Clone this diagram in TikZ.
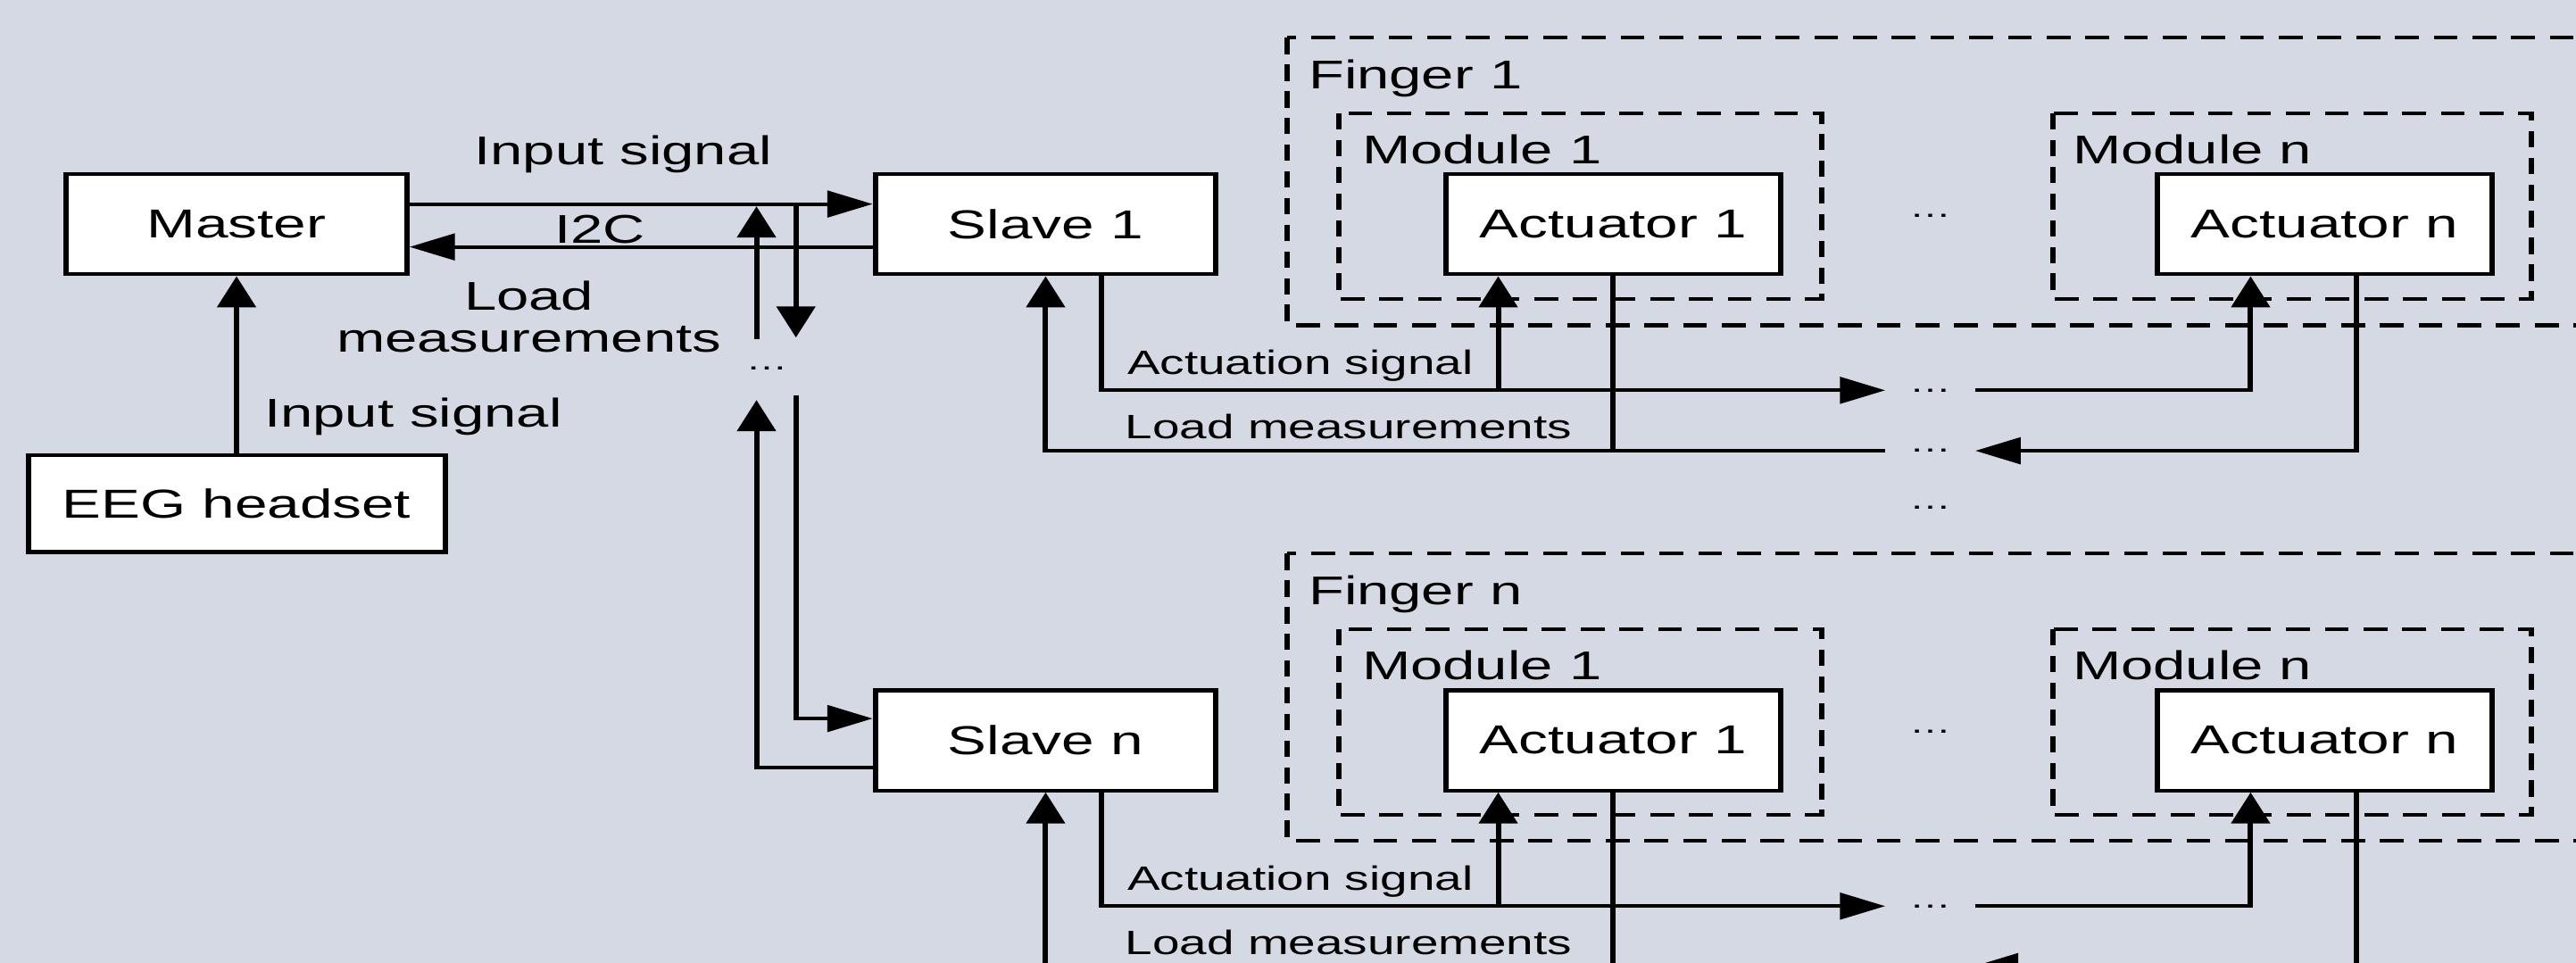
\documentclass[tikz,border=0pt]{standalone}
\usepackage{fontspec}
\setmainfont{Liberation Sans}
\usepackage{tikz}
\usetikzlibrary{arrows.meta}
\definecolor{PanelBg}{RGB}{213,217,228}

\begin{document}
\begin{tikzpicture}[x=0.2mm,y=-0.2mm,>={Triangle[length=3.8mm,width=3.2mm]},
  wire/.style={line width=0.45mm},
  blockbox/.style={draw,fill=white,line width=0.45mm,minimum width=28.6mm,
    minimum height=12.2mm,inner sep=0pt,font=\fontsize{14}{14.6}\selectfont},
  groupbox/.style={line width=0.45mm,dash pattern=on 2mm off 1.25mm},
  biglbl/.style={inner sep=0pt,font=\fontsize{13.9}{14.6}\selectfont},
  smalllbl/.style={inner sep=0pt,font=\fontsize{11.7}{12}\selectfont},
  gapdots/.style={inner xsep=1.8mm,inner ysep=0pt,font=\fontsize{10}{10}\selectfont}]
  \useasboundingbox (0,0) rectangle (1568,586);
  \clip (0,0) rectangle (1568,586);
  \fill[PanelBg] (0,0) rectangle (1568,586);
  % the figure is stretched sideways, so the canvas is too
  \begin{scope}[transform canvas={xscale=1.45},x=0.13793mm,wire]
  % master side
  \node[blockbox] (master) at (144,136.5) {Master};
  \node[blockbox,minimum width=35mm,minimum height=11.8mm] (eeg) at (144,306.5) {EEG headset};
  \node[blockbox] (slave1) at (636.5,136.5) {Slave 1};
  \node[blockbox] (slaven) at (636.5,450.7) {Slave n};
  \node[biglbl,anchor=base] (lblin) at (379.4,100.5) {Input signal};
  \node[biglbl,anchor=base] (lbli2c) at (365,148) {I2C};
  \node[biglbl,anchor=south,align=center] (lblload) at (322,215.7) {Load\\measurements};
  \node[biglbl,anchor=base] (lbleeg) at (251.5,259.7) {Input signal};
  \node[gapdots] (busdots) at (466.8,224.5) {\ldots};
  \coordinate (upfrom) at (460.5,206.5);
  \coordinate (upto) at (460.5,125.6);
  \coordinate (downfrom) at (484.5,124.2);
  \coordinate (downto) at (484.5,205.5);
  \coordinate (upnto) at (460.5,243.5);
  \coordinate (downnfrom) at (484.5,240.7);
  \draw[->] (master.east |- 0,124.2) -- (slave1.west |- 0,124.2);
  \draw[->] (slave1.west |- 0,150.3) -- (master.east |- 0,150.3);
  \draw[->] (eeg) -- (master);
  \draw[->] (upfrom) -- (upto);
  \draw[->] (downfrom) -- (downto);
  \draw[->] (slaven.west |- 0,467.2) -| (upnto);
  \draw[->] (downnfrom) |- (slaven.west |- 0,437.4);

  % finger 1
  \draw[groupbox] (783.5,23) rectangle (1640,198);
  \node[biglbl,anchor=base west] (fing1lbl) at (795,54.3) {Finger 1};
  \draw[groupbox] (815,69) rectangle (1109,182);
  \node[biglbl,anchor=base west] (mod11lbl) at (827.6,99.5) {Module 1};
  \draw[groupbox] (1249.6,69) rectangle (1541,182);
  \node[biglbl,anchor=base west] (mod1nlbl) at (1260,99.5) {Module n};
  \node[blockbox,minimum width=28.1mm] (act11) at (982,136.5) {Actuator 1};
  \node[blockbox,minimum width=28.1mm] (act1n) at (1415,136.5) {Actuator n};
  \node[gapdots] (moddots1) at (1175,131.2) {\ldots};
  \node[gapdots] (actdots1) at (1175,237.6) {\ldots};
  \node[gapdots] (loaddots1) at (1175,274.4) {\ldots};
  \node[smalllbl,anchor=base west] (act1lbl) at (684.6,227.8) {Actuation signal};
  \node[smalllbl,anchor=base west] (load1lbl) at (683.5,267.1) {Load measurements};
  \draw[->] (slave1.south -| 670.3,0) |- (actdots1.west);
  \draw[->] (actdots1.east) -| (act1n.south -| 1370,0);
  \draw[->] (912,0 |- actdots1) -- (912,0 |- act11.south);
  \draw (act11.south) -- (act11.south |- loaddots1);
  \draw[->] (1434.2,0 |- act1n.south) |- (loaddots1.east);
  \draw[->] (loaddots1.west) -| (slave1.south);

  \node[gapdots] (fingdots) at (1175,309) {\ldots};

  % finger n
  \draw[groupbox] (783.5,337) rectangle (1640,512);
  \node[biglbl,anchor=base west] (fingnlbl) at (795,368.3) {Finger n};
  \draw[groupbox] (815,383) rectangle (1109,496);
  \node[biglbl,anchor=base west] (modn1lbl) at (827.6,413.5) {Module 1};
  \draw[groupbox] (1249.6,383) rectangle (1541,496);
  \node[biglbl,anchor=base west] (modnnlbl) at (1260,413.5) {Module n};
  \node[blockbox,minimum width=28.1mm] (actn1) at (982,450.7) {Actuator 1};
  \node[blockbox,minimum width=28.1mm] (actnn) at (1415,450.7) {Actuator n};
  \node[gapdots] (moddotsn) at (1175,445.2) {\ldots};
  \node[gapdots] (actdotsn) at (1175,551.6) {\ldots};
  \coordinate (loadgapw) at (1149,588.4);
  \coordinate (loadgape) at (1201,588.4);
  \node[smalllbl,anchor=base west] (actnlbl) at (684.6,541.8) {Actuation signal};
  \node[smalllbl,anchor=base west] (loadnlbl) at (683.5,581.1) {Load measurements};
  \draw[->] (slaven.south -| 670.3,0) |- (actdotsn.west);
  \draw[->] (actdotsn.east) -| (actnn.south -| 1370,0);
  \draw[->] (912,0 |- actdotsn) -- (912,0 |- actn1.south);
  \draw (actn1.south) -- (actn1.south |- loadgapw);
  \draw[->] (1434.2,0 |- actnn.south) |- (loadgape);
  \draw[->] (loadgapw) -| (slaven.south);
  \end{scope}
\end{tikzpicture}
\end{document}
